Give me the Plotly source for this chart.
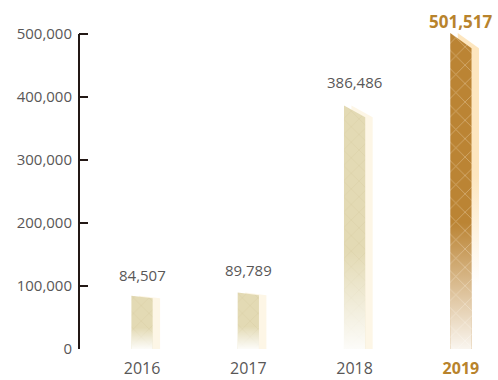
import plotly.graph_objects as go

# ---- data ----
years = ["2016", "2017", "2018", "2019"]
values = [84507, 89789, 386486, 501517]
value_labels = ["84,507", "89,789", "386,486", "501,517"]
y_ticks = [0, 100000, 200000, 300000, 400000, 500000]
y_tick_labels = ["0", "100,000", "200,000", "300,000", "400,000", "500,000"]

# ---- style ----
FONT = "Open Sans"
GRAY = "#595757"
GOLD_TXT = "#b8832c"
AX = "#231815"
front_colors = ["#e3dab4", "#e3dab4", "#e3dab4", "#bb8434"]
line_colors = ["rgba(200,185,140,0.55)", "rgba(200,185,140,0.55)", "rgba(200,185,140,0.55)", "rgba(248,232,200,0.85)"]
side_colors = ["#fdf6e6", "#fdf6e6", "#fdf6e6", "#fde6bf"]
side_bottom = ["#fdf6e6", "#fdf6e6", "#fdf6e6", "#ffffff"]
pattern_shape = ["x", "x", "x", "x"]
highlight = [False, False, False, True]
label_shift = [21, 22, 23, 11]

W = 0.200      # front face width (x units)
OFF = 0.070    # side face offset
SLANT = 0.048  # relative drop of top right corner
FADE = 0.40    # fraction of bar height that fades to white

fig = go.Figure()

for i, v in enumerate(values):
    xl, xr = i - W / 2, i + W / 2
    vr = v * (1 - SLANT)
    # side (back) face
    fig.add_trace(go.Scatter(
        x=[xl + OFF, xl + OFF, xr + OFF, xr + OFF, xl + OFF],
        y=[0, v, vr, 0, 0], mode="lines", line=dict(width=0),
        fill="toself",
        fillgradient=dict(type="vertical", start=0, stop=v,
                          colorscale=[[0, side_bottom[i]], [0.2, side_bottom[i]],
                                      [0.55, side_colors[i]], [1, side_colors[i]]]),
        hoverinfo="skip", showlegend=False))
    # front face with pattern
    fig.add_trace(go.Scatter(
        x=[xl, xl, xr, xr, xl], y=[0, v, vr, 0, 0], mode="lines", line=dict(width=0),
        fill="toself", fillcolor=front_colors[i],
        fillpattern=dict(shape=pattern_shape[i], fgcolor=line_colors[i], bgcolor=front_colors[i],
                         size=13 if highlight[i] else 11, solidity=0.12),
        hoverinfo="skip", showlegend=False))
    # white fade at the bottom of the front face
    top = v * FADE
    fig.add_trace(go.Scatter(
        x=[xl, xl, xr, xr, xl],
        y=[0, top, top, 0, 0], mode="lines", line=dict(width=0),
        fill="toself",
        fillgradient=dict(type="vertical", start=0, stop=top,
                          colorscale=[[0, "rgba(255,255,255,0.92)"], [1, "rgba(255,255,255,0)"]]),
        hoverinfo="skip", showlegend=False))
    # value label
    fig.add_annotation(
        x=i, y=v, text=f"<b>{value_labels[i]}</b>" if highlight[i] else value_labels[i],
        showarrow=False, yanchor="middle", xanchor="center", yshift=label_shift[i],
        font=dict(family=FONT, size=17 if highlight[i] else 15,
                  color=GOLD_TXT if highlight[i] else GRAY))

tick_text = [f"<span style='color:{GOLD_TXT}'><b>{y}</b></span>" if h else y
             for y, h in zip(years, highlight)]

# y axis line from 0 to top tick
fig.add_shape(type="line", xref="paper", yref="y", x0=0, x1=0, y0=0, y1=y_ticks[-1],
              line=dict(color=AX, width=2))

fig.update_layout(
    width=498, height=380, margin=dict(l=79, r=0, t=10, b=31, autoexpand=False),
    paper_bgcolor="white", plot_bgcolor="white",
    xaxis=dict(range=[-0.593, 3.349], tickvals=list(range(len(years))), ticktext=tick_text,
               showgrid=False, zeroline=False, showline=False, ticks="",
               ticklabelstandoff=8, automargin=False,
               tickfont=dict(family=FONT, size=16, color=GRAY), fixedrange=True),
    yaxis=dict(range=[0, 538000], tickvals=y_ticks, ticktext=y_tick_labels,
               showgrid=False, zeroline=False, showline=False,
               ticks="inside", ticklen=9, tickwidth=2, tickcolor=AX,
               ticklabelstandoff=6, automargin=False,
               tickfont=dict(family=FONT, size=15, color=GRAY), fixedrange=True),
)

fig.write_html("out.html")
